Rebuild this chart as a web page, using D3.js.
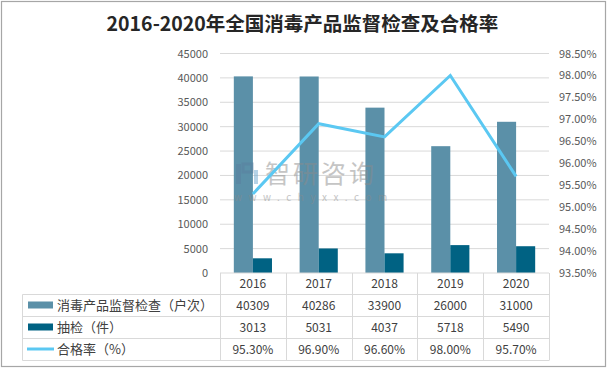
<!DOCTYPE html>
<html><head><meta charset="utf-8">
<script src="https://cdn.jsdelivr.net/npm/d3@7"></script>
<style>
html,body{margin:0;padding:0;background:#fff;}
text{font-family:"Noto Sans CJK SC","Liberation Sans",sans-serif;}
</style></head>
<body><svg id="c" width="608" height="369"></svg>
<script>
const title = "2016-2020年全国消毒产品监督检查及合格率";
const years = ["2016","2017","2018","2019","2020"];
const inspections = [40309, 40286, 33900, 26000, 31000];
const sampled = [3013, 5031, 4037, 5718, 5490];
const passRate = [95.30, 96.90, 96.60, 98.00, 95.70];
const seriesNames = ["消毒产品监督检查（户次）", "抽检（件）", "合格率（%）"];
const leftTicks = [0,5000,10000,15000,20000,25000,30000,35000,40000,45000];
const rightTicks = [93.5,94,94.5,95,95.5,96,96.5,97,97.5,98,98.5];
const colors = ["#5b90a8", "#006283", "#5bc8f2"];

const svg = d3.select("#c");
const L = 220, R = 549, T = 53.5, B = 273;

svg.append("rect").attr("x",1.5).attr("y",1.5).attr("width",604).attr("height",365)
  .attr("fill","#fff").attr("stroke","#a6a6a6").attr("stroke-width",1.2);

svg.append("text").attr("x",302.5).attr("y",31).attr("text-anchor","middle")
  .attr("font-size",19.5).attr("font-weight","bold").attr("fill","#262626").text(title);

const x = d3.scaleBand().domain(years).range([L,R]).paddingInner(0.42).paddingOuter(0.21);
const xs = d3.scaleBand().domain([0,1]).range([0,x.bandwidth()]);
const yL = d3.scaleLinear().domain([0,45000]).range([B,T]);
const yR = d3.scaleLinear().domain([93.5,98.5]).range([B,T]);
const step = (R-L)/years.length;
const cx = d => L + step*(years.indexOf(d)+0.5);

// gridlines
svg.append("g").selectAll("line").data(leftTicks.slice(1)).join("line")
  .attr("x1",L).attr("x2",R).attr("y1",d=>yL(d)).attr("y2",d=>yL(d))
  .attr("stroke","#d9d9d9").attr("stroke-width",1);

// left axis
const axL = d3.axisLeft(yL).tickValues(leftTicks).tickSize(0).tickPadding(12).tickFormat(d3.format("d"));
const gL = svg.append("g").attr("transform",`translate(${L},0)`).call(axL);
gL.select(".domain").remove();
gL.selectAll("text").attr("font-family","Liberation Sans, Arial, sans-serif").attr("font-size",11).attr("fill","#595959");

// right axis
const axR = d3.axisRight(yR).tickValues(rightTicks).tickSize(0).tickPadding(10).tickFormat(d=>d3.format(".2f")(d)+"%");
const gR = svg.append("g").attr("transform",`translate(${R},0)`).call(axR);
gR.select(".domain").remove();
gR.selectAll("text").attr("font-family","Liberation Sans, Arial, sans-serif").attr("font-size",11).attr("fill","#595959");

// bars
svg.append("g").selectAll("rect").data(years).join("rect")
  .attr("x",d=>x(d)+xs(0)).attr("width",xs.bandwidth())
  .attr("y",(d,i)=>yL(inspections[i])).attr("height",(d,i)=>B-yL(inspections[i]))
  .attr("fill",colors[0]);
svg.append("g").selectAll("rect").data(years).join("rect")
  .attr("x",d=>x(d)+xs(1)).attr("width",xs.bandwidth())
  .attr("y",(d,i)=>yL(sampled[i])).attr("height",(d,i)=>B-yL(sampled[i]))
  .attr("fill",colors[1]);

// watermark
const wm = svg.append("g").attr("opacity",0.5);
wm.append("rect").attr("x",236).attr("y",164).attr("width",5).attr("height",20).attr("fill","#5a7fa0");
wm.append("rect").attr("x",243).attr("y",164).attr("width",9).attr("height",8).attr("fill","none").attr("stroke","#5a7fa0").attr("stroke-width",3);
wm.append("rect").attr("x",254).attr("y",170).attr("width",4).attr("height",14).attr("fill","#6fa8d0");
wm.append("text").attr("x",265).attr("y",183).attr("font-size",25).attr("fill","#8c8c8c").attr("letter-spacing",3).text("智研咨询");
wm.append("text").attr("x",234).attr("y",201).attr("font-size",10).attr("fill","#8c8c8c")
  .attr("font-family","Liberation Sans, Arial, sans-serif").attr("letter-spacing",6.5).text("www.chyxx.com");

// line
const line = d3.line().x((d,i)=>cx(years[i])).y(d=>yR(d));
svg.append("path").datum(passRate).attr("d",line).attr("fill","none")
  .attr("stroke",colors[2]).attr("stroke-width",3).attr("stroke-linejoin","miter");

// table
const tb = svg.append("g");
const rowY = [273, 294.5, 316.5, 338.5, 360.5];
const gc = "#d9d9d9";
tb.append("line").attr("x1",L).attr("x2",R).attr("y1",B).attr("y2",B).attr("stroke","#d9d9d9");
[1,2,3,4].forEach(k=>{
  tb.append("line").attr("x1",22.5).attr("x2",R).attr("y1",rowY[k]).attr("y2",rowY[k]).attr("stroke",gc);
});
tb.append("line").attr("x1",22.5).attr("x2",22.5).attr("y1",rowY[1]).attr("y2",rowY[4]).attr("stroke",gc);
d3.range(years.length+1).forEach(k=>{
  const xx = Math.round(L+step*k)+0.5;
  tb.append("line").attr("x1",xx).attr("x2",xx).attr("y1",B).attr("y2",rowY[4]).attr("stroke",gc);
});
const numFont = "Liberation Sans, Arial, sans-serif";
tb.selectAll("text.yr").data(years).join("text").attr("class","yr")
  .attr("x",d=>cx(d)).attr("y",(rowY[0]+rowY[1])/2+4.5).attr("text-anchor","middle")
  .attr("font-family",numFont).attr("font-size",12).attr("fill","#404040").text(d=>d);
const rows = [inspections.map(String), sampled.map(String), passRate.map(v=>v.toFixed(2)+"%")];
rows.forEach((r,ri)=>{
  const yc = (rowY[ri+1]+rowY[ri+2])/2;
  tb.selectAll("text.r"+ri).data(r).join("text").attr("class","r"+ri)
    .attr("x",(d,i)=>cx(years[i])).attr("y",yc+4.5).attr("text-anchor","middle")
    .attr("font-family",numFont).attr("font-size",12).attr("fill","#404040").text(d=>d);
  if (ri<2) {
    tb.append("rect").attr("x",28).attr("y",yc-4).attr("width",25).attr("height",7).attr("fill",colors[ri]);
  } else {
    tb.append("line").attr("x1",27).attr("x2",54).attr("y1",yc-0.5).attr("y2",yc-0.5).attr("stroke",colors[2]).attr("stroke-width",3);
  }
  tb.append("text").attr("x",57).attr("y",yc+4.5).attr("font-size",13).attr("fill","#404040").text(seriesNames[ri]);
});
</script></body></html>
